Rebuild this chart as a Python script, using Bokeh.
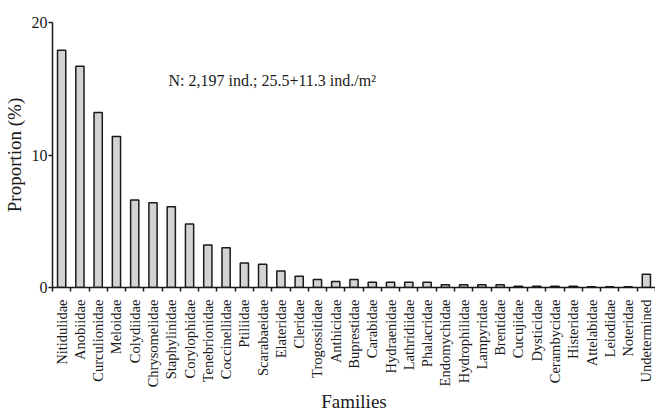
import numpy as np
from bokeh.plotting import figure
from bokeh.models import Range1d, FixedTicker, LinearAxis, Label, ColumnDataSource
from bokeh.embed import file_html
from bokeh.resources import INLINE

families = ["Nitidulidae", "Anobiidae", "Curculionidae", "Meloidae", "Colydiidae",
            "Chrysomelidae", "Staphylinidae", "Corylophidae", "Tenebrionidae", "Coccinellidae",
            "Ptiliidae", "Scarabaeidae", "Elateridae", "Cleridae", "Trogossitidae",
            "Anthicidae", "Buprestidae", "Carabidae", "Hydraenidae", "Lathridiidae",
            "Phalacridae", "Endomychidae", "Hydrophilidae", "Lampyridae", "Brentidae",
            "Cucujidae", "Dysticidae", "Cerambycidae", "Histeridae", "Attelabidae",
            "Leiodidae", "Noteridae", "Undetermined"]
proportions = [17.9, 16.7, 13.2, 11.4, 6.6,
               6.4, 6.1, 4.8, 3.2, 3.0,
               1.85, 1.75, 1.25, 0.85, 0.6,
               0.45, 0.6, 0.4, 0.4, 0.4,
               0.4, 0.2, 0.2, 0.2, 0.2,
               0.1, 0.1, 0.1, 0.1, 0.05,
               0.05, 0.05, 1.0]
y_ticks = [0, 10, 20]

FONT = "Liberation Serif"
INK = "#1a1a1a"
n = len(families)
xs = list(range(n))
src = ColumnDataSource(dict(x=xs, top=proportions))

p = figure(frame_width=603, frame_height=265, output_backend="svg", toolbar_location=None,
           x_range=Range1d(-0.5, n - 0.5), y_range=Range1d(0, 20),
           min_border_left=40, min_border_right=0, min_border_top=22, min_border_bottom=0)
p.outline_line_color = None
p.grid.visible = False
p.background_fill_color = "white"

p.vbar(x="x", top="top", width=0.45, source=src, fill_color="#d3d3d3",
       line_color=INK, line_width=1.5)

# boundary ticks axis (nearest to the plot)
xa = p.xaxis[0]
bounds = [i - 0.5 for i in range(n + 1)]
xa.ticker = FixedTicker(ticks=bounds)
xa.major_label_overrides = {b: "" for b in bounds}
xa.major_label_text_font_size = "0px"
xa.major_label_standoff = 0
xa.major_tick_out = 4
xa.major_tick_in = 0
xa.minor_tick_line_color = None
xa.axis_line_color = INK
xa.axis_line_width = 1.5
xa.major_tick_line_color = INK
xa.major_tick_line_width = 1.5

# label axis
la = LinearAxis(ticker=FixedTicker(ticks=xs),
                major_label_overrides={i: f for i, f in enumerate(families)},
                major_label_orientation=np.pi / 2,
                axis_line_color=None, major_tick_line_color=None, minor_tick_line_color=None,
                major_label_standoff=2,
                major_label_text_font=FONT, major_label_text_font_size="14.5px",
                major_label_text_color=INK,
                axis_label="Families", axis_label_text_font=FONT,
                axis_label_text_font_size="19px", axis_label_text_font_style="normal",
                axis_label_text_color=INK, axis_label_standoff=1)
p.add_layout(la, "below")

ya = p.yaxis[0]
ya.ticker = FixedTicker(ticks=y_ticks)
ya.major_tick_out = 4
ya.major_tick_in = 0
ya.minor_tick_line_color = None
ya.axis_line_color = INK
ya.axis_line_width = 1.5
ya.major_tick_line_color = INK
ya.major_tick_line_width = 1.5
ya.major_label_text_font = FONT
ya.major_label_text_font_size = "16px"
ya.major_label_text_color = INK
ya.major_label_standoff = 1
ya.axis_label = "Proportion (%)"
ya.axis_label_text_font = FONT
ya.axis_label_text_font_size = "19px"
ya.axis_label_text_font_style = "normal"
ya.axis_label_text_color = INK
ya.axis_label_standoff = 4

p.add_layout(Label(x=5.85, y=15.6, text="N: 2,197 ind.; 25.5+11.3 ind./m²",
                   text_font=FONT, text_font_size="16px", text_color=INK,
                   text_baseline="middle", text_align="left"))

open("out.html", "w").write(file_html(p, INLINE))
